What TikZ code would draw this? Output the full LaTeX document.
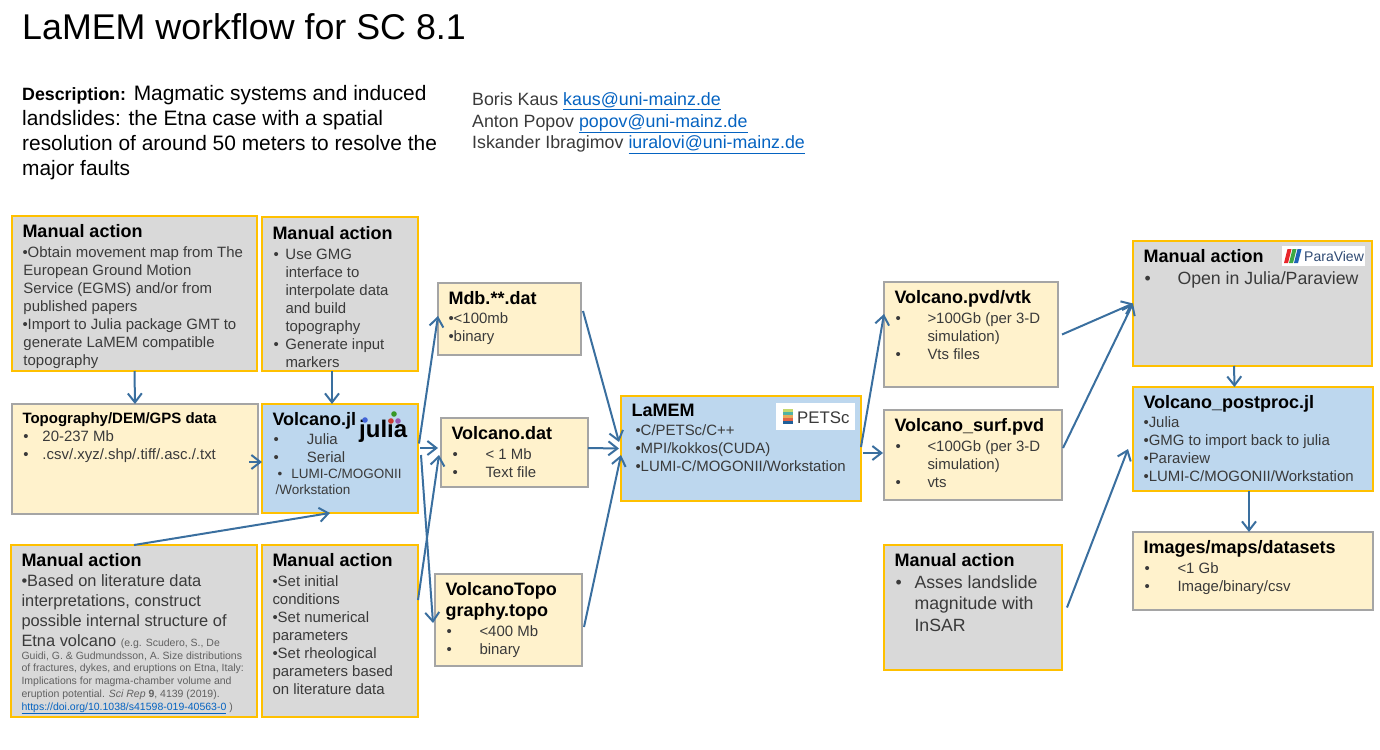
\documentclass[tikz,border=0pt]{standalone}
\usepackage{fontspec}
\setmainfont{Liberation Sans}
\usetikzlibrary{arrows.meta}
\definecolor{grayfill}{HTML}{D9D9D9}
\definecolor{creamfill}{HTML}{FFF2CC}
\definecolor{bluefill}{HTML}{BDD7EE}
\definecolor{orangeline}{HTML}{FFC000}
\definecolor{grayline}{HTML}{A5A5A5}
\definecolor{flowcolor}{HTML}{3A6F9F}
\definecolor{linkcolor}{HTML}{0563C1}
\definecolor{bodytext}{HTML}{3A3A3A}
\newcommand{\boxhead}[2][2pt]{{\fontsize{18}{18}\selectfont\bfseries\color{black}#2}\\[#1]}
\newcommand{\tabitem}[2]{\makebox[#1pt][l]{\textbullet}#2}
\newcommand{\linktext}[1]{{\color{linkcolor}\underline{#1}}}
\tikzset{
    boxbase/.style={draw, anchor=north west, line width=2.2pt, outer sep=0pt,
        inner xsep=10.5pt, inner ysep=8.5pt, text=bodytext,
        font=\fontsize{14.95}{18}\selectfont},
    boxsize/.style 2 args={
        execute at begin node={\begin{minipage}[t][\dimexpr#2pt-17pt\relax][t]{\dimexpr#1pt-21pt\relax}\raggedright},
        execute at end node={\end{minipage}}},
    manualbox/.style={boxbase, fill=grayfill, draw=orangeline},
    filebox/.style={boxbase, fill=creamfill, draw=grayline},
    codebox/.style={boxbase, fill=bluefill, draw=orangeline},
    flow/.style={draw=flowcolor, line width=2pt, -{Straight Barb[length=9pt,width=14pt,line width=2pt]}},
    headtext/.style={anchor=north west, inner sep=0pt, align=left, text=black}
}
\begin{document}
\begin{tikzpicture}[x=1pt, y=-1pt]
    \useasboundingbox (0,0) rectangle (1380,749);

    % 1. Title and description
    \node[anchor=base west, inner sep=0pt, font=\fontsize{35.8}{40}\selectfont] (title) at (22,39.5) {LaMEM workflow for SC 8.1};
    \node[headtext, font=\fontsize{20.9}{25}\selectfont] (descr) at (22,85.5) {%
        {\fontsize{17.8}{25}\selectfont\bfseries Description:} Magmatic systems and induced\\
        landslides: the Etna case with a spatial\\
        resolution of around 50 meters to resolve the\\
        major faults};
    \node[headtext, font=\fontsize{17.8}{21.7}\selectfont, text=bodytext] (people) at (472,92.5) {%
        Boris Kaus \linktext{kaus@uni-mainz.de}\\
        Anton Popov \linktext{popov@uni-mainz.de}\\
        Iskander Ibragimov \linktext{iuralovi@uni-mainz.de}};

    % 2. Left column
    \node[manualbox, boxsize={245}{155}] (egms) at (12,216) {%
        \boxhead{Manual action}
        \textbullet Obtain movement map from The\\
        \hspace*{1pt}European Ground Motion\\
        \hspace*{1pt}Service (EGMS) and/or from\\
        \hspace*{1pt}published papers\\
        \textbullet Import to Julia package GMT to\\
        \hspace*{1pt}generate LaMEM compatible\\
        \hspace*{1pt}topography};
    \node[manualbox, boxsize={156}{154}] (gmg) at (262,217) {%
        \vspace*{1pt}\boxhead{Manual action}
        \hspace*{1pt}\tabitem{12}{Use GMG}\\
        \hspace*{13pt}interface to\\
        \hspace*{13pt}interpolate data\\
        \hspace*{13pt}and build\\
        \hspace*{13pt}topography\\
        \hspace*{1pt}\tabitem{12}{Generate input}\\
        \hspace*{13pt}markers};
    \node[filebox, boxsize={246}{110}] (topo) at (12,404) {%
        {\fontsize{15}{18}\selectfont\bfseries\color{black}Topography/DEM/GPS data}\\
        \hspace*{1pt}\tabitem{19}{20-237 Mb}\\
        \hspace*{1pt}\tabitem{19}{.csv/.xyz/.shp/.tiff/.asc./.txt}};
    \node[codebox, boxsize={156}{109}] (jl) at (262,404) {%
        {\fontsize{18}{18}\selectfont\bfseries\color{black}Volcano.jl}\\[1pt]
        \hspace*{1pt}\tabitem{33.5}{Julia}\\
        \hspace*{1pt}\tabitem{33.5}{Serial}\par
        {\fontsize{13.5}{16}\selectfont
        \hspace*{5pt}\tabitem{14}{LUMI-C/MOGONII}\\
        \hspace*{3pt}/Workstation\par}};
    \node[manualbox, boxsize={246}{172}, font=\fontsize{16.4}{20}\selectfont] (etna) at (11,545) {%
        \boxhead[0pt]{Manual action}
        \textbullet Based on literature data\\
        interpretations, construct\\
        possible internal structure of\\
        Etna volcano {\fontsize{10.5}{12.7}\selectfont\color{bodytext!80}(e.g. Scudero, S., De}\par
        {\fontsize{10.5}{12.7}\selectfont\color{bodytext!80}
        Guidi, G. \& Gudmundsson, A. Size distributions\\
        of fractures, dykes, and eruptions on Etna, Italy:\\
        Implications for magma-chamber volume and\\
        eruption potential. \textit{Sci Rep} \textbf{9}, 4139 (2019).\\
        \linktext{https://doi.org/10.1038/s41598-019-40563-0} )\par}};
    \node[manualbox, boxsize={156}{172}] (params) at (262,545) {%
        \boxhead{Manual action}
        \textbullet Set initial\\
        conditions\\
        \textbullet Set numerical\\
        parameters\\
        \textbullet Set rheological\\
        parameters based\\
        on literature data};

    % 3. Input files
    \node[filebox, boxsize={143}{72}] (mdb) at (438,283) {%
        \boxhead[1pt]{Mdb.**.dat}
        \textbullet{}<100mb\\
        \textbullet binary};
    \node[filebox, boxsize={147}{69}] (vdat) at (441,418) {%
        \boxhead{Volcano.dat}
        \hspace*{1pt}\tabitem{33}{< 1 Mb}\\
        \hspace*{1pt}\tabitem{33}{Text file}};
    \node[filebox, boxsize={147}{92}] (vtopo) at (435,574) {%
        \boxhead[3pt]{VolcanoTopo}
        \boxhead{graphy.topo}
        \hspace*{1pt}\tabitem{33}{<400 Mb}\\
        \hspace*{1pt}\tabitem{33}{binary}};

    % 4. LaMEM and its output
    \node[codebox, boxsize={240}{105}] (lamem) at (621,396) {%
        \boxhead[1pt]{LaMEM}
        \hspace*{4pt}\textbullet C/PETSc/C++\\
        \hspace*{4pt}\textbullet MPI/kokkos(CUDA)\\
        \hspace*{4pt}\textbullet LUMI-C/MOGONII/Workstation};
    \node[filebox, boxsize={174}{105}] (pvd) at (884,282) {%
        \boxhead{Volcano.pvd/vtk}
        \hspace*{1pt}\tabitem{32}{>100Gb (per 3-D}\\
        \hspace*{33pt}simulation)\\
        \hspace*{1pt}\tabitem{32}{Vts files}};
    \node[filebox, boxsize={178}{90}] (surf) at (884,410) {%
        \boxhead{Volcano\_surf.pvd}
        \hspace*{1pt}\tabitem{32}{<100Gb (per 3-D}\\
        \hspace*{33pt}simulation)\\
        \hspace*{1pt}\tabitem{32}{vts}};
    \node[manualbox, boxsize={178}{125}, font=\fontsize{17.7}{21.7}\selectfont] (insar) at (884,545) {%
        \boxhead[0pt]{Manual action}
        \hspace*{1pt}\tabitem{19}{Asses landslide}\\
        \hspace*{20pt}magnitude with\\
        \hspace*{20pt}InSAR};

    % 5. Right column
    \node[manualbox, boxsize={239}{125}, font=\fontsize{17.7}{21.7}\selectfont] (para) at (1133,241) {%
        \boxhead[0pt]{Manual action}
        \hspace*{1pt}\tabitem{33}{Open in Julia/Paraview}};
    \node[codebox, boxsize={240}{104}] (post) at (1133,387) {%
        \boxhead[1pt]{Volcano\_postproc.jl}
        \textbullet Julia\\
        \textbullet GMG to import back to julia\\
        \textbullet Paraview\\
        \textbullet LUMI-C/MOGONII/Workstation};
    \node[filebox, boxsize={240}{78}] (images) at (1133,532) {%
        \boxhead{Images/maps/datasets}
        \hspace*{1pt}\tabitem{33}{<1 Gb}\\
        \hspace*{1pt}\tabitem{33}{Image/binary/csv}};

    % 6. Logos
    \node[anchor=base west, inner sep=0pt, font=\fontsize{24}{24}\selectfont\bfseries] (julialogo) at (359,437) {julia};
    \fill[color={rgb,255:red,64;green,99;blue,216}] (365,420) circle (2.8);
    \fill[color={rgb,255:red,56;green,152;blue,38}] (394,414) circle (2.8);
    \fill[color={rgb,255:red,203;green,60;blue,51}] (391,421) circle (2.8);
    \fill[color={rgb,255:red,149;green,88;blue,178}] (398,421) circle (2.8);

    \fill[white] (776,403) rectangle (855,430);
    \fill[color={rgb,255:red,197;green,216;blue,109}] (783,409) rectangle (793,411.5);
    \fill[color={rgb,255:red,79;green,179;blue,164}] (783,412) rectangle (793,414.5);
    \fill[color={rgb,255:red,232;green,170;blue,90}] (783,415) rectangle (793,417.5);
    \fill[color={rgb,255:red,226;green,100;blue,70}] (783,418) rectangle (793,420.5);
    \fill[color={rgb,255:red,31;green,95;blue,153}] (783,421) rectangle (793,423.5);
    \node[anchor=base west, inner sep=0pt, font=\fontsize{16.8}{18}\selectfont, text=bodytext] (petsclogo) at (797,423) {PETSc};

    \fill[white] (1282,246) rectangle (1365,266);
    \fill[color={rgb,255:red,232;green,38;blue,43}] (1284,263) -- (1288,263) -- (1291.5,249) -- (1287.5,249) -- cycle;
    \fill[color={rgb,255:red,61;green,169;blue,68}] (1289,263) -- (1293,263) -- (1296.5,249) -- (1292.5,249) -- cycle;
    \fill[color={rgb,255:red,31;green,99;blue,182}] (1294,263) -- (1298,263) -- (1301.5,249) -- (1297.5,249) -- cycle;
    \node[anchor=base west, inner sep=0pt, font=\fontsize{14}{16}\selectfont, text={rgb,255:red,47;green,74;blue,115}] (paralogo) at (1304,261) {ParaView};

    % 7. Connectors
    \draw[flow] (egms.south) -- (topo.north);
    \draw[flow] ([xshift=-8pt]gmg.south) -- ([xshift=-8pt]jl.north);
    \draw[flow] ([xshift=-9pt,yshift=-3pt]topo.east) -- ([yshift=-3.5pt]jl.west);
    \draw[flow] (etna.north) -- ([xshift=-10pt]jl.south);
    \draw[flow] ([xshift=1pt,yshift=15pt]jl.east) -- ([yshift=3pt]mdb.west);
    \draw[flow] ([xshift=2pt,yshift=10.5pt]jl.east) -- ([xshift=-3pt,yshift=4.5pt]vdat.west);
    \draw[flow] ([xshift=3pt,yshift=3.5pt]jl.east) -- ([xshift=-2pt,yshift=-3pt]vtopo.west);
    \draw[flow] ([yshift=31pt]params.east) -- ([xshift=-2pt,yshift=-2.5pt]vdat.west);
    \draw[flow] ([xshift=2pt,yshift=8pt]mdb.east) -- ([xshift=-2pt,yshift=6.5pt]lamem.west);
    \draw[flow] ([yshift=4.5pt]vdat.east) -- ([xshift=-2pt]lamem.west);
    \draw[flow] ([xshift=2pt,yshift=-7pt]vtopo.east) -- ([yshift=-6.5pt]lamem.west);
    \draw[flow] ([yshift=1.5pt]lamem.east) -- ([yshift=20.5pt]pvd.west);
    \draw[flow] ([xshift=2pt,yshift=-4.5pt]lamem.east) -- ([xshift=-1pt,yshift=2pt]surf.west);
    \draw[flow] ([xshift=4pt]pvd.east) -- (para.west);
    \draw[flow] ([xshift=1pt,yshift=7pt]surf.east) -- (para.west);
    \draw[flow] ([xshift=5pt]insar.east) -- ([xshift=-5pt,yshift=-10pt]post.west);
    \draw[flow] ([xshift=-18.5pt]para.south) -- ([xshift=-18.5pt]post.north);
    \draw[flow] ([xshift=-4pt]post.south) -- ([xshift=-4pt]images.north);
\end{tikzpicture}
\end{document}
